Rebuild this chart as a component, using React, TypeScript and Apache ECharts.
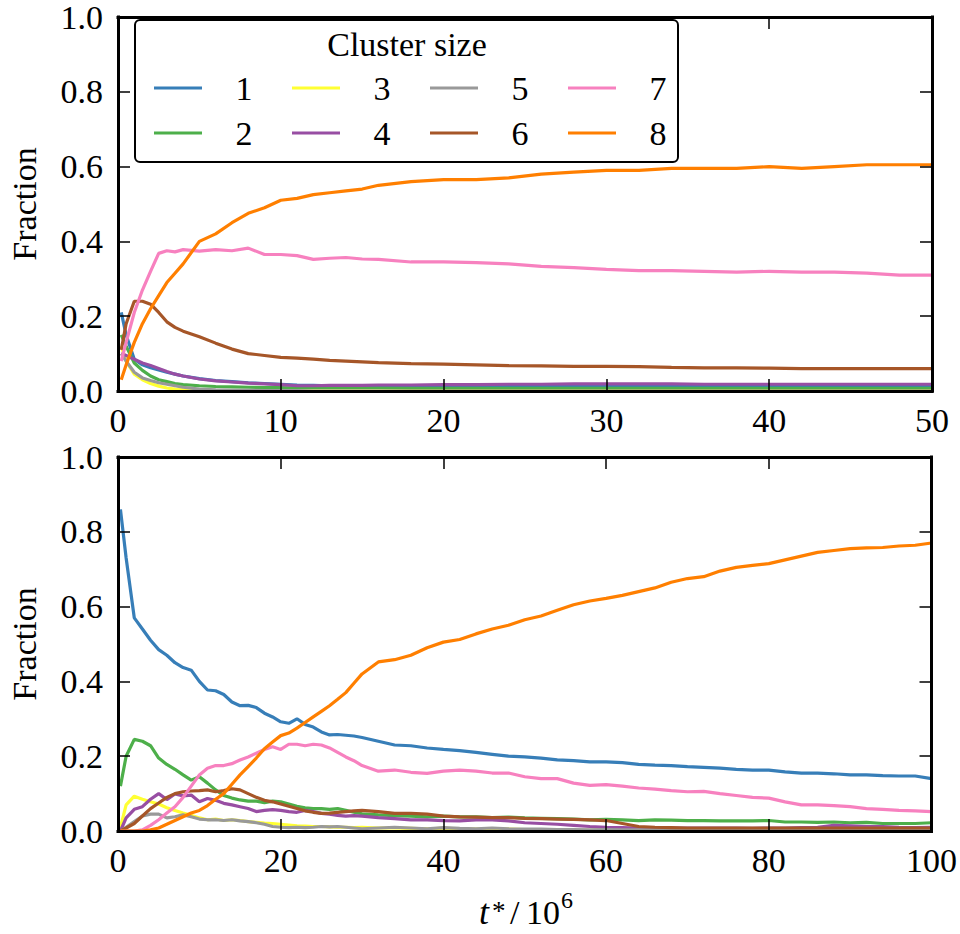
import React, { useEffect, useRef } from "react";
import * as echarts from "echarts";

const FONT = "Liberation Serif";
const FONT_SIZE = 34;

// Series names (cluster sizes) and their colours
const clusterSizes = ["1", "2", "3", "4", "5", "6", "7", "8"];
const colors = ["#377eb8", "#4daf4a", "#ffff33", "#984ea3", "#999999", "#a65628", "#f781bf", "#ff7f00"];

// Upper panel: time samples (t*/10^6) and fraction per cluster size
const timesTop = [0.2, 0.5, 1, 1.5, 2, 2.5, 3, 3.5, 4, 5, 6, 7, 8, 9, 10, 11, 12, 13, 14, 15, 16, 18, 20, 22, 24, 26, 28, 30, 32, 34, 36, 38, 40, 42, 44, 46, 48, 50];
const top1 = [0.21, 0.15, 0.085, 0.07, 0.062, 0.056, 0.05, 0.045, 0.04, 0.033, 0.028, 0.025, 0.022, 0.02, 0.018, 0.016, 0.015, 0.014, 0.014, 0.013, 0.013, 0.013, 0.012, 0.012, 0.012, 0.012, 0.012, 0.012, 0.012, 0.012, 0.012, 0.012, 0.012, 0.012, 0.012, 0.012, 0.012, 0.012];
const top2 = [0.15, 0.12, 0.075, 0.055, 0.04, 0.03, 0.025, 0.02, 0.017, 0.014, 0.012, 0.011, 0.01, 0.009, 0.009, 0.008, 0.008, 0.008, 0.008, 0.008, 0.008, 0.007, 0.007, 0.007, 0.007, 0.007, 0.007, 0.007, 0.007, 0.007, 0.007, 0.007, 0.007, 0.007, 0.007, 0.007, 0.007, 0.007];
const top3 = [0.12, 0.08, 0.045, 0.03, 0.02, 0.013, 0.008, 0.005, 0.003, 0.002, 0.001, 0.001, 0.001, 0, 0, 0, 0, 0, 0, 0, 0, 0, 0, 0, 0, 0, 0, 0, 0, 0, 0, 0, 0, 0, 0, 0, 0, 0];
const top4 = [0.1, 0.095, 0.085, 0.075, 0.068, 0.06, 0.052, 0.045, 0.04, 0.032, 0.027, 0.024, 0.021, 0.019, 0.017, 0.014, 0.014, 0.015, 0.015, 0.015, 0.016, 0.016, 0.017, 0.017, 0.018, 0.018, 0.019, 0.019, 0.019, 0.019, 0.018, 0.018, 0.018, 0.018, 0.018, 0.018, 0.018, 0.018];
const top5 = [0.1, 0.08, 0.05, 0.035, 0.028, 0.022, 0.018, 0.014, 0.01, 0.005, 0.003, 0.002, 0.002, 0.001, 0.001, 0.001, 0, 0, 0, 0, 0, 0, 0, 0, 0, 0, 0, 0, 0, 0, 0, 0, 0, 0, 0, 0, 0, 0];
const top6 = [0.11, 0.18, 0.24, 0.24, 0.232, 0.21, 0.185, 0.17, 0.16, 0.145, 0.128, 0.112, 0.1, 0.095, 0.09, 0.088, 0.085, 0.082, 0.08, 0.078, 0.076, 0.073, 0.072, 0.07, 0.068, 0.067, 0.066, 0.066, 0.065, 0.063, 0.062, 0.062, 0.061, 0.06, 0.06, 0.06, 0.06, 0.06];
const top7 = [0.08, 0.13, 0.21, 0.27, 0.32, 0.368, 0.375, 0.372, 0.378, 0.374, 0.378, 0.375, 0.382, 0.365, 0.365, 0.362, 0.352, 0.355, 0.357, 0.353, 0.352, 0.345, 0.345, 0.343, 0.34, 0.333, 0.33, 0.325, 0.322, 0.322, 0.32, 0.318, 0.32, 0.318, 0.318, 0.315, 0.31, 0.31];
const top8 = [0.03, 0.07, 0.13, 0.18, 0.22, 0.255, 0.29, 0.315, 0.34, 0.4, 0.42, 0.45, 0.475, 0.49, 0.51, 0.515, 0.525, 0.53, 0.535, 0.54, 0.55, 0.56, 0.565, 0.565, 0.57, 0.58, 0.585, 0.59, 0.59, 0.595, 0.595, 0.595, 0.6, 0.595, 0.6, 0.605, 0.605, 0.605];

// Lower panel: time samples (t*/10^6) and fraction per cluster size
const timesBottom = [0.3, 1, 2, 3, 4, 5, 6, 7, 8, 9, 10, 11, 12, 13, 14, 15, 16, 17, 18, 19, 20, 21, 22, 23, 24, 25, 26, 27, 28, 29, 30, 32, 34, 36, 38, 40, 42, 44, 46, 48, 50, 52, 54, 56, 58, 60, 62, 64, 66, 68, 70, 72, 74, 76, 78, 80, 82, 84, 86, 88, 90, 92, 94, 96, 98, 100];
const bottom1 = [0.86, 0.73, 0.57, 0.54, 0.51, 0.485, 0.47, 0.45, 0.437, 0.43, 0.4,
  0.377, 0.375, 0.365, 0.345, 0.335, 0.336, 0.33, 0.315, 0.305, 0.292,
  0.288, 0.3, 0.285, 0.278, 0.265, 0.257, 0.258, 0.256, 0.254, 0.25,
  0.24, 0.23, 0.228, 0.222, 0.218, 0.215, 0.21, 0.205, 0.2, 0.198,
  0.195, 0.19, 0.188, 0.185, 0.185, 0.183, 0.178, 0.176, 0.175, 0.172,
  0.17, 0.168, 0.165, 0.163, 0.163, 0.158, 0.155, 0.155, 0.153, 0.15,
  0.15, 0.148, 0.147, 0.147, 0.14];
const bottom2 = [0.12, 0.2, 0.245, 0.24, 0.228, 0.195, 0.178, 0.165, 0.15, 0.136, 0.145,
  0.128, 0.11, 0.095, 0.088, 0.083, 0.08, 0.08, 0.076, 0.08, 0.078,
  0.072, 0.066, 0.062, 0.06, 0.06, 0.058, 0.06, 0.055, 0.05, 0.046,
  0.043, 0.041, 0.04, 0.038, 0.04, 0.038, 0.038, 0.036, 0.037, 0.035,
  0.034, 0.033, 0.032, 0.03, 0.031, 0.03, 0.028, 0.03, 0.029, 0.028,
  0.028, 0.027, 0.027, 0.027, 0.028, 0.024, 0.024, 0.023, 0.024, 0.022,
  0.023, 0.02, 0.02, 0.02, 0.022];
const bottom3 = [0.01, 0.07, 0.093, 0.085, 0.078, 0.072, 0.062, 0.055, 0.048, 0.042, 0.035,
  0.03, 0.032, 0.028, 0.03, 0.028, 0.025, 0.023, 0.021, 0.02, 0.018,
  0.016, 0.014, 0.013, 0.012, 0.012, 0.011, 0.01, 0.01, 0.009, 0.01,
  0.008, 0.008, 0.007, 0.006, 0.007, 0.006, 0.005, 0.006, 0.005, 0.004,
  0.003, 0.003, 0.002, 0.002, 0.002, 0.002, 0.002, 0.001, 0.002, 0.001,
  0.001, 0.001, 0.001, 0.001, 0.001, 0.001, 0.001, 0.001, 0.001, 0.001,
  0.001, 0.001, 0.001, 0.001, 0.001];
const bottom4 = [0, 0.035, 0.058, 0.065, 0.085, 0.1, 0.084, 0.099, 0.094, 0.096, 0.078,
  0.087, 0.082, 0.074, 0.07, 0.065, 0.06, 0.052, 0.055, 0.057, 0.055,
  0.052, 0.05, 0.055, 0.052, 0.047, 0.045, 0.042, 0.04, 0.041, 0.04,
  0.036, 0.033, 0.03, 0.03, 0.028, 0.027, 0.03, 0.03, 0.027, 0.022,
  0.02, 0.018, 0.015, 0.012, 0.01, 0.009, 0.008, 0.008, 0.008, 0.008,
  0.008, 0.008, 0.008, 0.007, 0.008, 0.008, 0.009, 0.01, 0.015, 0.014,
  0.012, 0.012, 0.01, 0.009, 0.01];
const bottom5 = [0, 0.01, 0.025, 0.04, 0.045, 0.045, 0.035, 0.038, 0.043, 0.038, 0.032,
  0.03, 0.03, 0.028, 0.03, 0.027, 0.025, 0.022, 0.018, 0.012, 0.01,
  0.009, 0.01, 0.009, 0.01, 0.012, 0.011, 0.012, 0.01, 0.008, 0.006,
  0.008, 0.01, 0.008, 0.006, 0.009, 0.007, 0.006, 0.008, 0.006, 0.005,
  0.005, 0.004, 0.004, 0.003, 0.004, 0.003, 0.003, 0.003, 0.003, 0.004,
  0.003, 0.003, 0.003, 0.003, 0.003, 0.004, 0.003, 0.003, 0.003, 0.003,
  0.003, 0.002, 0.003, 0.003, 0.003];
const bottom6 = [0, 0.008, 0.02, 0.04, 0.06, 0.075, 0.09, 0.1, 0.105, 0.107, 0.108,
  0.11, 0.105, 0.108, 0.113, 0.11, 0.1, 0.09, 0.082, 0.078, 0.072,
  0.066, 0.06, 0.054, 0.05, 0.047, 0.048, 0.05, 0.052, 0.054, 0.055,
  0.052, 0.047, 0.047, 0.045, 0.04, 0.038, 0.037, 0.036, 0.036, 0.034,
  0.033, 0.032, 0.031, 0.03, 0.028, 0.02, 0.012, 0.01, 0.009, 0.008,
  0.008, 0.008, 0.008, 0.008, 0.008, 0.008, 0.008, 0.008, 0.008, 0.008,
  0.008, 0.008, 0.008, 0.008, 0.008];
const bottom7 = [0, 0, 0, 0.003, 0.015, 0.03, 0.048, 0.065, 0.09, 0.12, 0.15,
  0.168, 0.175, 0.175, 0.18, 0.19, 0.198, 0.208, 0.218, 0.225, 0.218,
  0.232, 0.232, 0.228, 0.232, 0.23, 0.222, 0.21, 0.198, 0.188, 0.175,
  0.16, 0.163, 0.157, 0.154, 0.16, 0.163, 0.16, 0.155, 0.155, 0.145,
  0.14, 0.14, 0.128, 0.122, 0.124, 0.12, 0.115, 0.112, 0.108, 0.105,
  0.106, 0.1, 0.095, 0.09, 0.088, 0.078, 0.07, 0.07, 0.068, 0.065,
  0.06, 0.058, 0.055, 0.054, 0.052];
const bottom8 = [0, 0, 0, 0, 0.003, 0.008, 0.018, 0.028, 0.038, 0.048, 0.055,
  0.068, 0.085, 0.1, 0.125, 0.15, 0.172, 0.195, 0.22, 0.238, 0.255,
  0.262, 0.275, 0.29, 0.305, 0.32, 0.335, 0.352, 0.37, 0.395, 0.42,
  0.452, 0.458, 0.47, 0.49, 0.505, 0.512, 0.527, 0.54, 0.55, 0.565,
  0.575, 0.59, 0.605, 0.615, 0.622, 0.63, 0.64, 0.65, 0.665, 0.675,
  0.68, 0.695, 0.705, 0.71, 0.715, 0.725, 0.735, 0.745, 0.75, 0.755,
  0.757, 0.758, 0.762, 0.764, 0.77];

const topSeries = [top1, top2, top3, top4, top5, top6, top7, top8];
const bottomSeries = [bottom1, bottom2, bottom3, bottom4, bottom5, bottom6, bottom7, bottom8];

const legendRows = [["1", "3", "5", "7"], ["2", "4", "6", "8"]];

const zip = (xs: number[], ys: number[]) => xs.map((x, i) => [x, ys[i]]);

const frameLine = { show: true, onZero: false, lineStyle: { color: "#000", width: 3, cap: "square" } };
const tick = { show: true, inside: true, length: 12, lineStyle: { color: "#000", width: 1.5 } };
const labelStyle = { color: "#000", fontFamily: FONT, fontSize: FONT_SIZE };

function xAxes(gridIndex: number, max: number, interval: number) {
  return [
    {
      gridIndex, type: "value", min: 0, max, interval, position: "bottom", z: 3,
      axisLine: frameLine, axisTick: tick, splitLine: { show: false },
      axisLabel: { ...labelStyle, margin: 12, showMinLabel: true, showMaxLabel: true },
    },
    {
      gridIndex, type: "value", min: 0, max, interval, position: "top", z: 3,
      axisLine: frameLine, axisTick: tick, splitLine: { show: false }, axisLabel: { show: false },
    },
  ];
}

function yAxes(gridIndex: number) {
  return [
    {
      gridIndex, type: "value", min: 0, max: 1, interval: 0.2, position: "left", z: 3,
      axisLine: frameLine, axisTick: tick, splitLine: { show: false },
      axisLabel: { ...labelStyle, margin: 15, formatter: (v: number) => v.toFixed(1) },
    },
    {
      gridIndex, type: "value", min: 0, max: 1, interval: 0.2, position: "right", z: 3,
      axisLine: frameLine, axisTick: tick, splitLine: { show: false }, axisLabel: { show: false },
    },
  ];
}

export default function App() {
  const ref = useRef<HTMLDivElement>(null);

  useEffect(() => {
    if (!ref.current) return;
    const chart = echarts.init(ref.current, undefined, { renderer: "svg" });

    const series: any[] = [];
    clusterSizes.forEach((name, i) => {
      series.push({
        name, type: "line", xAxisIndex: 0, yAxisIndex: 0, showSymbol: false, symbol: "none",
        data: zip(timesTop, topSeries[i]), lineStyle: { color: colors[i], width: 3.2 }, itemStyle: { color: colors[i] },
        z: 2,
      });
    });
    clusterSizes.forEach((name, i) => {
      series.push({
        name, type: "line", xAxisIndex: 2, yAxisIndex: 2, showSymbol: false, symbol: "none",
        data: zip(timesBottom, bottomSeries[i]), lineStyle: { color: colors[i], width: 3.2 }, itemStyle: { color: colors[i] },
        z: 2,
      });
    });

    const legends = legendRows.map((row, r) => ({
      data: row, left: 154, top: r === 0 ? 68 : 113, orient: "horizontal", padding: 0,
      itemWidth: 48, itemHeight: 3, itemGap: 11, icon: "rect", selectedMode: false, z: 7,
      formatter: "{a|{name}}",
      textStyle: {
        color: "#000", fontFamily: FONT, fontSize: FONT_SIZE, lineHeight: 40,
        rich: { a: { width: 74, align: "center", fontFamily: FONT, fontSize: FONT_SIZE, lineHeight: 40, color: "#000" } },
      },
    }));

    const supStyle = { fill: "#000", fontFamily: FONT, fontSize: 24, align: "left", verticalAlign: "middle" };
    const mainStyle = { fill: "#000", fontFamily: FONT, fontSize: FONT_SIZE, align: "left", verticalAlign: "middle" };

    chart.setOption({
      animation: false,
      backgroundColor: "#fff",
      grid: [
        { left: 118, top: 17, width: 814, height: 374 },
        { left: 118, top: 457, width: 814, height: 374 },
      ],
      xAxis: [...xAxes(0, 50, 10), ...xAxes(1, 100, 20)],
      yAxis: [...yAxes(0), ...yAxes(1)],
      legend: legends,
      graphic: [
        {
          type: "rect", z: 6,
          shape: { x: 135, y: 20, width: 543, height: 142, r: 5 },
          style: { fill: "#fff", stroke: "#000", lineWidth: 2 },
        },
        {
          type: "text", z: 7, x: 407, y: 44,
          style: { text: "Cluster size", fill: "#000", fontFamily: FONT, fontSize: FONT_SIZE, align: "center", verticalAlign: "middle" },
        },
        {
          type: "text", x: 24.5, y: 204, rotation: Math.PI / 2,
          style: { text: "Fraction", fill: "#000", fontFamily: FONT, fontSize: FONT_SIZE, align: "center", verticalAlign: "middle" },
        },
        {
          type: "text", x: 24.5, y: 644, rotation: Math.PI / 2,
          style: { text: "Fraction", fill: "#000", fontFamily: FONT, fontSize: FONT_SIZE, align: "center", verticalAlign: "middle" },
        },
        { type: "text", x: 479, y: 912, style: { ...mainStyle, text: "t", fontStyle: "italic", fontSize: 36 } },
        { type: "text", x: 492, y: 911, style: { ...supStyle, text: "*", fontSize: 27 } },
        { type: "text", x: 510, y: 912, style: { ...mainStyle, text: "/" } },
        { type: "text", x: 526, y: 912, style: { ...mainStyle, text: "10" } },
        { type: "text", x: 561, y: 900, style: { ...supStyle, text: "6" } },
      ],
      series,
    });

    return () => chart.dispose();
  }, []);

  return <div ref={ref} style={{ position: "absolute", left: 0, top: 0, width: 960, height: 934 }} />;
}
